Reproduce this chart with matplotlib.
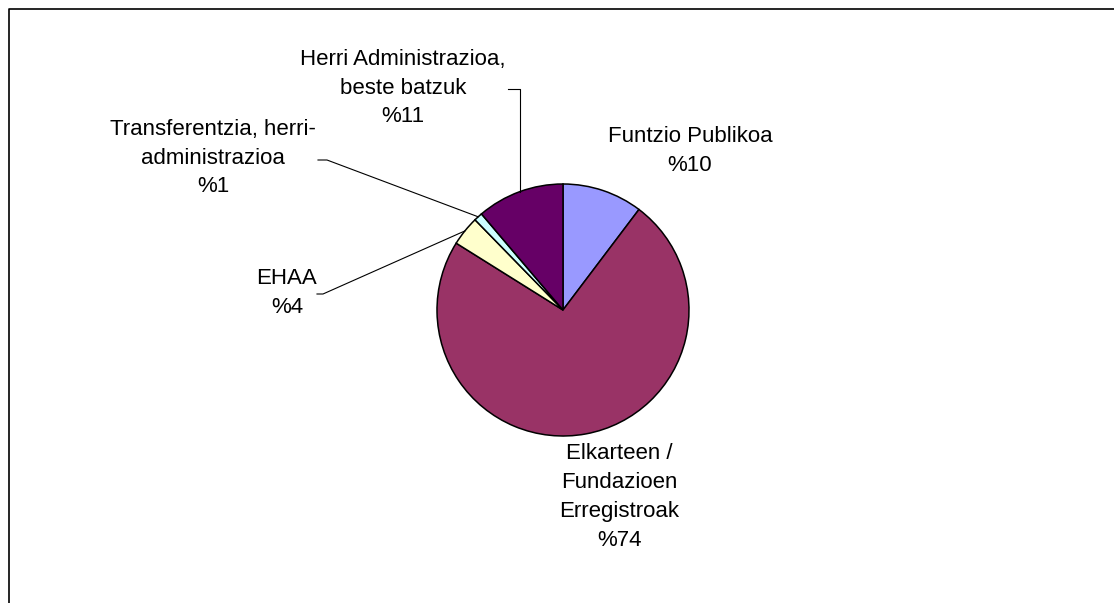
import numpy as np
import matplotlib.pyplot as plt

plt.rcParams['font.family'] = ['Liberation Sans', 'DejaVu Sans']

W, H = 1114, 603

categories = ['Funtzio Publikoa',
              'Elkarteen /\nFundazioen\nErregistroak',
              'EHAA',
              'Transferentzia, herri-\nadministrazioa',
              'Herri Administrazioa,\nbeste batzuk']
shares = [10.3, 73.6, 3.8, 1.1, 11.2]
pct_labels = ['%10', '%74', '%4', '%1', '%11']
colors = ['#9999FF', '#993366', '#FFFFCC', '#CCFFFF', '#660066']

# label centres in pixels (y measured from top)
label_xy = [(690, 151), (619, 497), (287, 293), (213, 158), (403, 88)]
# leader lines: (start x, elbow x, y); elbow x None -> straight down to the pie
leaders = [None, None, (317, 323, 294), (318, 327, 160), (508, None, 89)]

cx, cy, r = 563, 310, 126

fig = plt.figure(figsize=(W / 100, H / 100), dpi=100)
ax = fig.add_axes([0, 0, 1, 1])

wedges, _ = ax.pie(shares, colors=colors, startangle=90, counterclock=False,
                   center=(cx, H - cy), radius=r,
                   wedgeprops=dict(edgecolor='black', linewidth=1.1))
ax.set_xlim(0, W)
ax.set_ylim(0, H)
ax.set_aspect('equal')
ax.axis('off')

# outer chart frame (only top/left visible)
ax.plot([9, 9, W + 10], [-10, H - 9, H - 9], color='black', linewidth=1.2)

for w, cat, pct, (lx, ly), ld in zip(wedges, categories, pct_labels, label_xy, leaders):
    ax.text(lx, H - ly, cat + '\n' + pct, ha='center', va='center',
            fontsize=16, linespacing=1.5, color='black')
    if ld is None:
        continue
    mid = np.deg2rad((w.theta1 + w.theta2) / 2)
    ex = cx + r * np.cos(mid)
    ey = (H - cy) + r * np.sin(mid)
    x0, xe, y0 = ld
    if xe is None:
        xe = ex
    ax.plot([x0, xe, ex], [H - y0, H - y0, ey], color='black', linewidth=0.8)

fig.savefig('out.png', dpi=100)
